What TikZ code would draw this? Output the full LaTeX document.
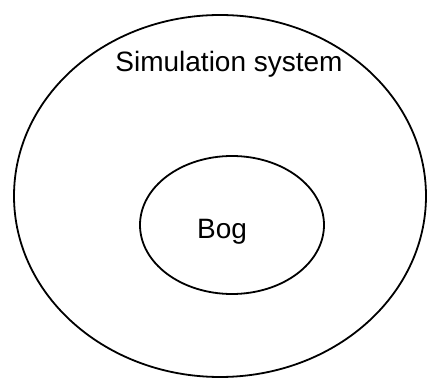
\documentclass[tikz,border=0pt]{standalone}
\usepackage{fontspec}
\setmainfont{Liberation Sans}
\usetikzlibrary{shapes.geometric}

\begin{document}
\begin{tikzpicture}[x=1pt,y=-1pt]
  \useasboundingbox (0,0) rectangle (429,379);
  \node[draw,ellipse,line width=1.8pt,inner sep=0pt,minimum width=412pt,minimum height=362pt] (sys) at (220,196) {};
  \node[draw,ellipse,line width=1.8pt,inner sep=0pt,minimum width=184pt,minimum height=138pt] (bog) at (232,225) {};
  \node[anchor=base,font=\fontsize{28}{31}\selectfont,inner sep=0pt] (syslabel) at (229,72) {Simulation system};
  \node[anchor=base,font=\fontsize{28}{31}\selectfont,inner sep=0pt] (boglabel) at (222,239) {Bog};
\end{tikzpicture}
\end{document}
